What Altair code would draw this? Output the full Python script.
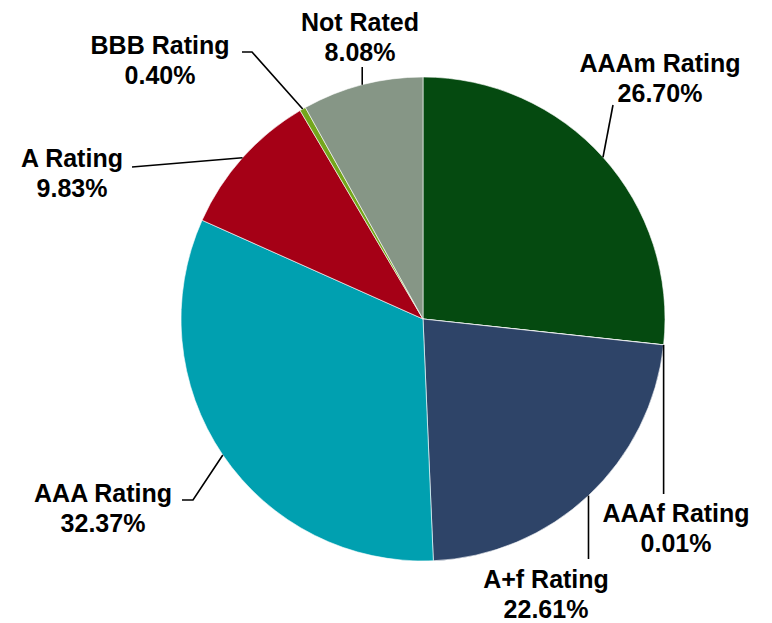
import math
import altair as alt
import pandas as pd

# ---- data ----
categories = ["AAAm Rating", "AAAf Rating", "A+f Rating", "AAA Rating",
              "A Rating", "BBB Rating", "Not Rated"]
shares = [26.70, 0.01, 22.61, 32.37, 9.83, 0.40, 8.08]
pct_labels = ["26.70%", "0.01%", "22.61%", "32.37%", "9.83%", "0.40%", "8.08%"]
colors = ["#054A10", "#C0C0C0", "#2E4468", "#00A0B0", "#A50016", "#74A61C", "#869686"]

# ---- layout (page pixel coordinates) ----
W, H = 756, 615
M = 8  # page margin
CX, CY, R = 423, 319, 242
# label anchor: centre x, baseline of first line
label_pos = {
    "AAAm Rating": (660, 72),
    "AAAf Rating": (676, 522),
    "A+f Rating": (546, 588),
    "AAA Rating": (103, 502),
    "A Rating": (72, 167),
    "BBB Rating": (160, 54),
    "Not Rated": (360, 31),
}
LINE_GAP = 30
# leader line points after the pie edge point
leader_tail = {
    "AAAm Rating": [(613, 105)],
    "AAAf Rating": [(None, 494)],
    "A+f Rating": [(None, 559)],
    "AAA Rating": [(193, 500), (182, 500)],
    "A Rating": [(132, 167)],
    "BBB Rating": [(252, 52), (242, 52)],
    "Not Rated": [(None, 67)],
}

slices = pd.DataFrame({
    "cat": categories, "share": shares, "idx": list(range(len(categories)))
})

# mid-angle edge points from the data
total = sum(shares)
cum = 0.0
line_rows, text_rows = [], []
for c, s, p in zip(categories, shares, pct_labels):
    mid = (cum + s / 2) / total * 2 * math.pi
    cum += s
    ex = CX + R * math.sin(mid)
    ey = CY - R * math.cos(mid)
    pts = [(ex, ey)]
    for (tx, ty) in leader_tail[c]:
        pts.append((ex if tx is None else tx, ty))
    for k, (px, py) in enumerate(pts):
        line_rows.append({"cat": c, "seq": k, "x": px - M, "y": py - M})
    lx, ly = label_pos[c]
    text_rows.append({"cat": c, "txt": c, "x": lx - M, "y": ly - M})
    text_rows.append({"cat": c, "txt": p, "x": lx - M, "y": ly + LINE_GAP - M})

lines_df = pd.DataFrame(line_rows)
text_df = pd.DataFrame(text_rows)

xs = alt.Scale(domain=[0, W], nice=False, zero=False)
ys = alt.Scale(domain=[0, H], nice=False, zero=False, reverse=True)

pie = alt.Chart(slices).mark_arc(radius=R, stroke="#FFFFFF", strokeWidth=0.6).encode(
    theta=alt.Theta("share:Q", stack=True),
    order=alt.Order("idx:Q"),
    color=alt.Color("cat:N", scale=alt.Scale(domain=categories, range=colors), legend=None),
    x=alt.value(CX - M),
    y=alt.value(CY - M),
)

leaders = alt.Chart(lines_df).mark_line(color="#000000", strokeWidth=1.6).encode(
    x=alt.X("x:Q", scale=xs, axis=None),
    y=alt.Y("y:Q", scale=ys, axis=None),
    detail="cat:N",
    order=alt.Order("seq:Q"),
)

labels = alt.Chart(text_df).mark_text(
    font="Liberation Sans", fontWeight="bold", fontSize=25,
    align="center", baseline="alphabetic", color="#000000",
).encode(
    x=alt.X("x:Q", scale=xs, axis=None),
    y=alt.Y("y:Q", scale=ys, axis=None),
    text="txt:N",
)

chart = alt.layer(pie, leaders, labels).properties(
    width=W, height=H, autosize=alt.AutoSizeParams(type="none"), padding=0,
).configure_view(stroke=None)

chart.save("out.html", embed_options={"renderer": "svg", "actions": False})
